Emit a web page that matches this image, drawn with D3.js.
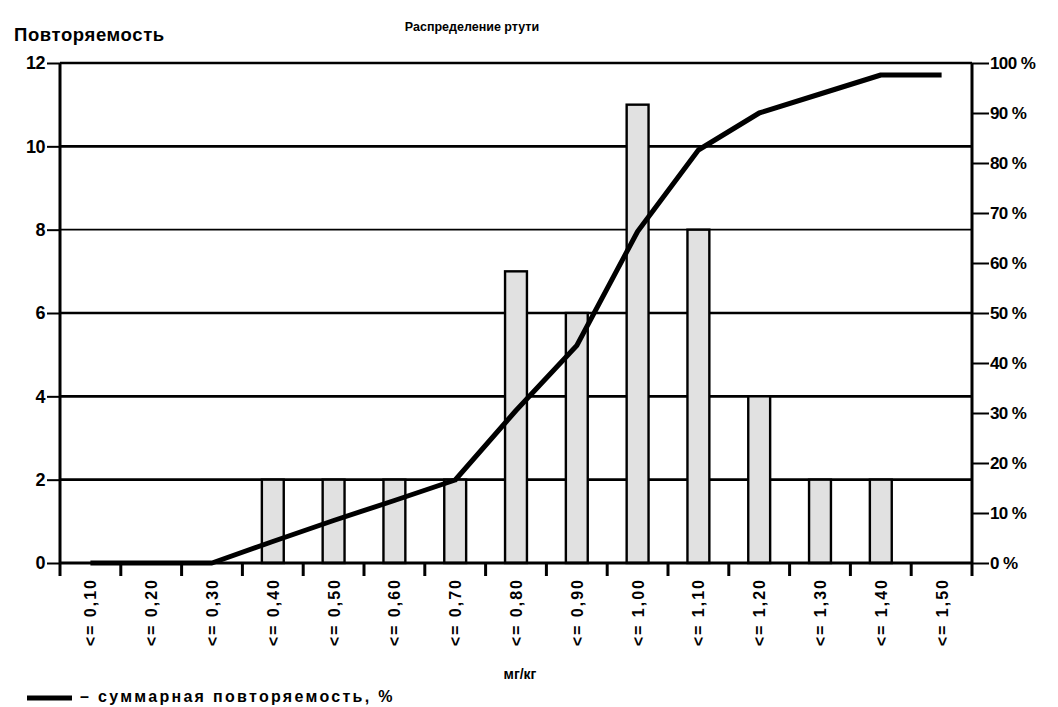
<!DOCTYPE html>
<html>
<head>
<meta charset="utf-8">
<script src="https://cdn.jsdelivr.net/npm/d3@7"></script>
<style>
  body { margin: 0; background: #fff; }
  text { font-family: "Liberation Sans", Arial, sans-serif; font-weight: bold; fill: #000; }
</style>
</head>
<body>
<div id="chart"></div>
<script>
// data
var categories = ["<= 0,10", "<= 0,20", "<= 0,30", "<= 0,40", "<= 0,50", "<= 0,60", "<= 0,70",
                  "<= 0,80", "<= 0,90", "<= 1,00", "<= 1,10", "<= 1,20", "<= 1,30", "<= 1,40", "<= 1,50"];
var counts = [0, 0, 0, 2, 2, 2, 2, 7, 6, 11, 8, 4, 2, 2, 0];
var cumulative = [0, 0, 0, 4.3, 8.5, 12.5, 16.6, 30.5, 43.5, 66.3, 82.6, 90, 93.8, 97.6, 97.6];
var countTicks = [0, 2, 4, 6, 8, 10, 12];
var pctTicks = [0, 10, 20, 30, 40, 50, 60, 70, 80, 90, 100];

var W = 1058, H = 707;
var plotLeft = 60, plotRight = 972, plotTop = 63, plotBottom = 563;

var svg = d3.select("#chart").append("svg")
	.attr("width", W)
	.attr("height", H);

var x = d3.scaleBand()
	.domain(categories)
	.range([plotLeft, plotRight])
	.paddingInner(0.64)
	.paddingOuter(0.32);
var y = d3.scaleLinear().domain([0, 12]).range([plotBottom, plotTop]);
var yPct = d3.scaleLinear().domain([0, 100]).range([plotBottom, plotTop]);

// grid lines
svg.append("g").selectAll("line")
	.data(countTicks.filter(function (d) { return d > 0; }))
	.join("line")
	.attr("x1", plotLeft).attr("x2", plotRight)
	.attr("y1", function (d) { return y(d); })
	.attr("y2", function (d) { return y(d); })
	.style("stroke", "#000")
	.style("stroke-width", function (d) { return d == 8 ? 1.6 : 2.6; });

// bars
svg.append("g").selectAll("rect")
	.data(categories.map(function (c, i) { return {cat: c, v: counts[i]}; }).filter(function (d) { return d.v > 0; }))
	.join("rect")
	.attr("x", function (d) { return x(d.cat); })
	.attr("y", function (d) { return y(d.v); })
	.attr("width", x.bandwidth())
	.attr("height", function (d) { return y(0) - y(d.v); })
	.style("fill", "#e1e1e1")
	.style("stroke", "#000")
	.style("stroke-width", 2.4);

// axes frame
svg.append("line").attr("x1", plotLeft).attr("x2", plotLeft).attr("y1", plotTop).attr("y2", plotBottom + 13)
	.style("stroke", "#000").style("stroke-width", 3);
svg.append("line").attr("x1", plotRight).attr("x2", plotRight).attr("y1", plotTop).attr("y2", plotBottom + 13)
	.style("stroke", "#000").style("stroke-width", 3);
svg.append("line").attr("x1", plotLeft).attr("x2", plotRight).attr("y1", plotBottom).attr("y2", plotBottom)
	.style("stroke", "#000").style("stroke-width", 3);

// left axis
var yAxis = svg.append("g").attr("transform", "translate(" + plotLeft + ",0)")
	.call(d3.axisLeft(y).tickValues(countTicks).tickSize(13).tickPadding(2));
yAxis.select(".domain").remove();
yAxis.selectAll("line").style("stroke", "#000").style("stroke-width", 2);
yAxis.selectAll("text").style("font-size", "18px").style("letter-spacing", "-0.5px")
	.attr("font-family", null).attr("font-size", null);

// right axis
var rAxis = svg.append("g").attr("transform", "translate(" + plotRight + ",0)")
	.call(d3.axisRight(yPct).tickValues(pctTicks).tickSize(17).tickPadding(1)
		.tickFormat(function (d) { return d + " %"; }));
rAxis.select(".domain").remove();
rAxis.selectAll("line").style("stroke", "#000").style("stroke-width", 2);
rAxis.selectAll("text").style("font-size", "17px").style("letter-spacing", "-0.6px")
	.attr("font-family", null).attr("font-size", null);

// bottom ticks between categories
var step = x.step();
var bounds = categories.map(function (c) { return x(c) + x.bandwidth() / 2 - step / 2; });
bounds.push(plotRight);
svg.append("g").selectAll("line")
	.data(bounds.slice(1, -1))
	.join("line")
	.attr("x1", function (d) { return d; }).attr("x2", function (d) { return d; })
	.attr("y1", plotBottom).attr("y2", plotBottom + 13)
	.style("stroke", "#000").style("stroke-width", 3);

// category labels, rotated
svg.append("g").selectAll("text")
	.data(categories)
	.join("text")
	.attr("transform", function (d) {
		return "translate(" + (x(d) + x.bandwidth() / 2 + 6) + "," + (plotBottom + 15) + ") rotate(-90)";
	})
	.attr("text-anchor", "end")
	.style("font-size", "16px")
	.style("letter-spacing", "2px")
	.text(function (d) { return d; });

// cumulative line
var line = d3.line()
	.x(function (d, i) { return x(categories[i]) + x.bandwidth() / 2; })
	.y(function (d) { return yPct(d); });
svg.append("path")
	.datum(cumulative)
	.attr("d", line)
	.style("fill", "none")
	.style("stroke", "#000")
	.style("stroke-width", 5)
	.style("stroke-linejoin", "round");

// titles
svg.append("text").attr("x", 472).attr("y", 31).attr("text-anchor", "middle")
	.style("font-size", "12.5px")
	.text("Распределение ртути");
svg.append("text").attr("x", 14).attr("y", 41)
	.style("font-size", "18.5px").style("letter-spacing", "0.6px")
	.text("Повторяемость");
svg.append("text").attr("x", 520).attr("y", 679).attr("text-anchor", "middle")
	.style("font-size", "14px")
	.text("мг/кг");

// legend
svg.append("line").attr("x1", 27).attr("x2", 72).attr("y1", 698).attr("y2", 698)
	.style("stroke", "#000").style("stroke-width", 5);
svg.append("text").attr("x", 80).attr("y", 702)
	.style("font-size", "16px").style("letter-spacing", "2.3px")
	.text("– суммарная повторяемость, %");
</script>
</body>
</html>
